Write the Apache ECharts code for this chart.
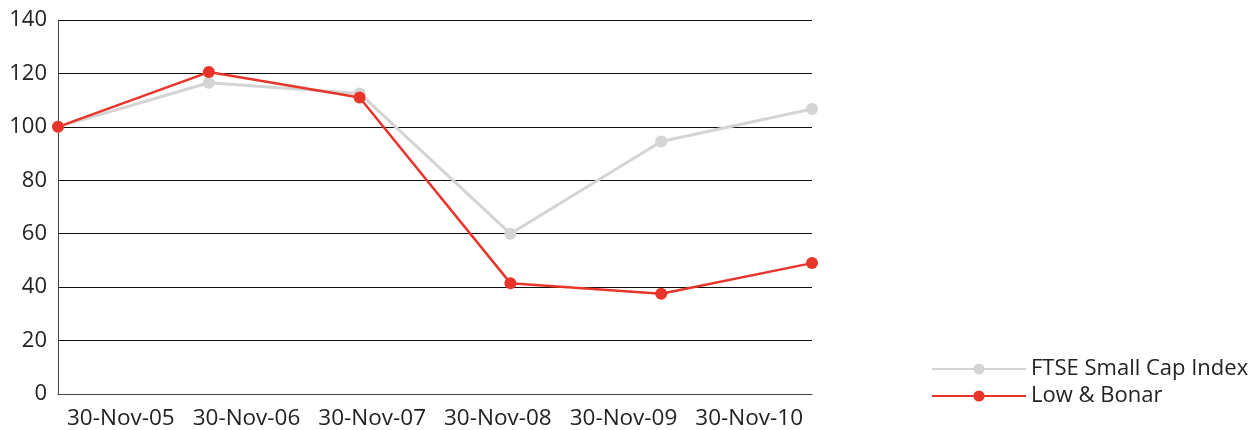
<!DOCTYPE html>
<html>
<head>
<meta charset="utf-8">
<script src="https://cdn.jsdelivr.net/npm/echarts@6/dist/echarts.min.js"></script>
<style>
  html, body { margin: 0; padding: 0; background: #fff; }
  #chart { width: 1250px; height: 430px; }
</style>
</head>
<body>
<div id="chart"></div>
<script>
// 数据
var dates = ["30-Nov-05", "30-Nov-06", "30-Nov-07", "30-Nov-08", "30-Nov-09", "30-Nov-10"];
var ftse = [100, 116.5, 112.5, 60, 94.5, 106.7];
var lowBonar = [100, 120.5, 111, 41.5, 37.5, 49];

var myChart = echarts.init(document.getElementById("chart"));
var font = "'Open Sans', 'Noto Sans', sans-serif";

var option = {
  animation: false,
  textStyle: { fontFamily: font },
  grid: { left: 58, right: 438, top: 20, bottom: 35 },
  legend: {
    orient: "vertical",
    left: 926,
    top: 353,
    itemWidth: 94,
    itemHeight: 14,
    itemGap: 5,
    textStyle: { fontSize: 22, color: "#222", fontFamily: font },
    data: ["FTSE Small Cap Index", "Low & Bonar"]
  },
  xAxis: [
    {
      // 标签用（Excel式：标签在区间中间）
      type: "category",
      data: dates,
      boundaryGap: true,
      axisLine: { show: true, lineStyle: { color: "#444", width: 1 } },
      axisTick: { show: false },
      axisLabel: { interval: 0, hideOverlap: false, fontSize: 22.5, color: "#222", margin: 13 },
      splitLine: { show: false }
    },
    {
      // 数据用，点从左边到右边
      type: "category",
      data: dates,
      boundaryGap: false,
      show: false
    }
  ],
  yAxis: {
    type: "value",
    min: 0,
    max: 140,
    interval: 20,
    axisLine: { show: true, lineStyle: { color: "#444", width: 1 } },
    axisTick: { show: false },
    axisLabel: { fontSize: 22, color: "#222", margin: 11 },
    splitLine: { show: true, lineStyle: { color: "#111", width: 1 } }
  },
  series: [
    {
      name: "FTSE Small Cap Index",
      type: "line",
      xAxisIndex: 1,
      data: ftse,
      symbol: "circle",
      symbolSize: 12,
      lineStyle: { color: "#d4d4d4", width: 3 },
      itemStyle: { color: "#d4d4d4" }
    },
    {
      name: "Low & Bonar",
      type: "line",
      xAxisIndex: 1,
      data: lowBonar,
      symbol: "circle",
      symbolSize: 12,
      lineStyle: { color: "#e8352b", width: 2.5 },
      itemStyle: { color: "#e8352b" }
    }
  ]
};

myChart.setOption(option);
</script>
</body>
</html>
